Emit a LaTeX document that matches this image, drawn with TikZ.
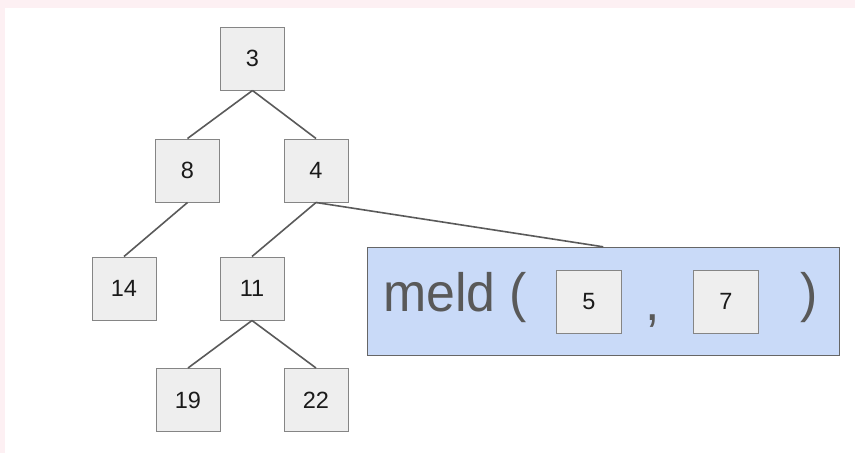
\documentclass[tikz,border=0pt]{standalone}
\usepackage{fontspec}
\setmainfont{Liberation Sans}
\newfontfamily\meldfont[FakeStretch=0.96]{Liberation Sans}
\definecolor{pinkband}{HTML}{FDF0F3}
\definecolor{boxfill}{HTML}{EEEEEE}
\definecolor{boxline}{HTML}{858585}
\definecolor{edgecol}{HTML}{5A5A5A}
\definecolor{meldfill}{HTML}{C9DAF8}
\definecolor{meldline}{HTML}{666666}
\definecolor{meldtext}{HTML}{595959}
\definecolor{digit}{HTML}{1A1A1A}
\tikzset{
  heapbox/.style={draw=boxline, fill=boxfill, line width=1pt, minimum width=64pt, minimum height=63pt, inner sep=0pt, text=digit, font=\fontsize{23.5}{23.5}\selectfont},
  argbox/.style={heapbox, minimum width=65pt},
  edge/.style={draw=edgecol, line width=1.6pt},
  meldbox/.style={draw=meldline, fill=meldfill, line width=1pt, minimum width=471.7pt, minimum height=108pt, inner sep=0pt},
  meldtxt/.style={inner sep=0pt, text=meldtext, font=\meldfont\fontsize{54}{54}\selectfont}
}
\begin{document}
\begin{tikzpicture}[x=1pt,y=-1pt]
\useasboundingbox (0,0) rectangle (855,453);
\fill[white] (0,0) rectangle (855,453);
\fill[pinkband] (0,0) rectangle (855,8);
\fill[pinkband] (0,0) rectangle (5,453);
% tree nodes
\node[heapbox] (n3)  at (252.5,58.5) {3};
\node[heapbox] (n8)  at (187.5,170.5) {8};
\node[heapbox] (n4)  at (316,170.5) {4};
\node[heapbox] (n14) at (124,288.5) {14};
\node[heapbox] (n11) at (252,288.5) {11};
\node[heapbox] (n19) at (188,400) {19};
\node[heapbox] (n22) at (316,400) {22};
% meld box
\node[meldbox] (meld) at (603.2,301.3) {};
\node[meldtxt, anchor=base west] (mw) at (383,311.5) {meld};
\node[meldtxt, anchor=base west] (lp) at (509.5,311.5) {(};
\node[meldtxt, anchor=base] (cm) at (653,320.5) {,};
\node[meldtxt, anchor=base] (rp) at (809.5,311.5) {)};
\node[argbox] (n5) at (589,301.7) {5};
\node[argbox] (n7) at (726,301.7) {7};
% edges
\draw[edge] (n3.south) -- (n8.north);
\draw[edge] (n3.south) -- (n4.north);
\draw[edge] (n8.south) -- (n14.north);
\draw[edge] (n4.south) -- (n11.north);
\draw[edge] (n4.south) -- (meld.north);
\draw[edge] (n11.south) -- (n19.north);
\draw[edge] (n11.south) -- (n22.north);
\end{tikzpicture}
\end{document}
